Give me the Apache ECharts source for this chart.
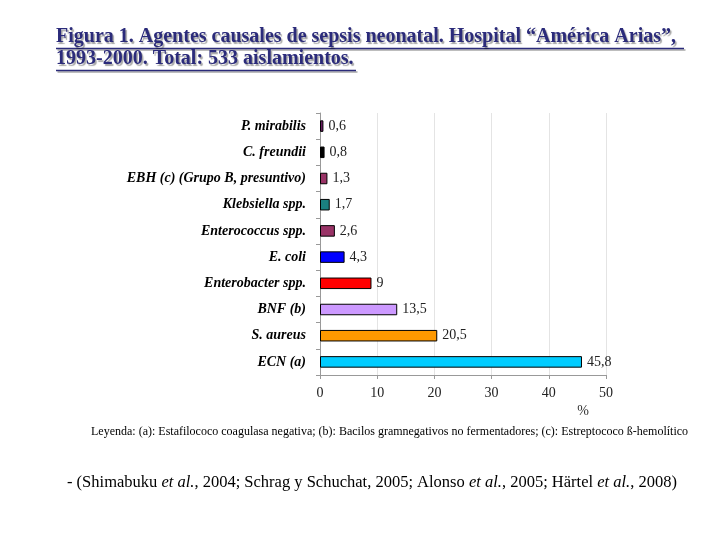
<!DOCTYPE html>
<html>
<head>
<meta charset="utf-8">
<script src="https://cdn.jsdelivr.net/npm/echarts@6/dist/echarts.min.js"></script>
<style>
  html, body { margin: 0; padding: 0; background: #fff; }
  #chart { width: 720px; height: 540px; }
</style>
</head>
<body>
<div id="chart"></div>
<script>
// agentes causales, de arriba hacia abajo
const agentes = [
  'P. mirabilis', 'C. freundii', 'EBH (c) (Grupo B, presuntivo)', 'Klebsiella spp.',
  'Enterococcus spp.', 'E. coli', 'Enterobacter spp.', 'BNF (b)', 'S. aureus', 'ECN (a)'
];
const porcentajes = [0.6, 0.8, 1.3, 1.7, 2.6, 4.3, 9, 13.5, 20.5, 45.8];
const colores = [
  '#6a1b62', '#000000', '#993366', '#1a8080', '#993366',
  '#0000ff', '#ff0000', '#cc99ff', '#ff9900', '#00ccff'
];
const ticksX = [0, 10, 20, 30, 40, 50];

const titulo1 = 'Figura 1. Agentes causales de sepsis neonatal. Hospital “América Arias”,';
const titulo2 = '1993-2000. Total: 533 aislamientos.';
const leyenda = 'Leyenda: (a): Estafilococo coagulasa negativa; (b): Bacilos gramnegativos no fermentadores; (c): Estreptococo ß-hemolítico';

const chart = echarts.init(document.getElementById('chart'));

const tituloStyle = {
  fontFamily: 'Liberation Serif',
  fontWeight: 'bold',
  fontSize: 20,
  color: '#2b2b7a',
  textShadowColor: 'rgba(0,0,0,0.35)',
  textShadowOffsetX: 1.5,
  textShadowOffsetY: 1.5,
  textShadowBlur: 1
};

const option = {
  backgroundColor: '#fff',
  animation: false,
  title: [
    { text: titulo1, left: 56, top: 27, padding: 0, textStyle: tituloStyle },
    { text: titulo2, left: 56, top: 49, padding: 0, textStyle: tituloStyle },
    {
      text: leyenda, left: 91, top: 426, padding: 0,
      textStyle: { fontFamily: 'Liberation Serif', fontWeight: 'normal', fontSize: 12, color: '#000' }
    },
    {
      text: '- (Shimabuku {i|et al.}, 2004; Schrag y Schuchat, 2005; Alonso {i|et al.}, 2005; Härtel {i|et al.}, 2008)',
      left: 67, top: 474, padding: 0,
      textStyle: {
        fontFamily: 'Liberation Serif', fontWeight: 'normal', fontSize: 16.5, color: '#000',
        rich: { i: { fontFamily: 'Liberation Serif', fontStyle: 'italic', fontSize: 16.5, color: '#000' } }
      }
    }
  ],
  graphic: [
    // subrayado del título
    { type: 'line', shape: { x1: 56, y1: 48.5, x2: 684, y2: 48.5 },
      style: { stroke: '#2b2b7a', lineWidth: 1.5, shadowColor: 'rgba(0,0,0,0.35)', shadowOffsetX: 1.5, shadowOffsetY: 1.5 } },
    { type: 'line', shape: { x1: 56, y1: 70.5, x2: 356, y2: 70.5 },
      style: { stroke: '#2b2b7a', lineWidth: 1.5, shadowColor: 'rgba(0,0,0,0.35)', shadowOffsetX: 1.5, shadowOffsetY: 1.5 } }
  ],
  grid: { left: 320, right: 114, top: 113, bottom: 165, containLabel: false },
  xAxis: {
    type: 'value',
    min: ticksX[0],
    max: ticksX[ticksX.length - 1],
    interval: 10,
    name: '%',
    nameLocation: 'end',
    nameGap: -23,
    nameTextStyle: {
      fontFamily: 'Liberation Serif', fontSize: 14, color: '#333',
      align: 'center', verticalAlign: 'top', padding: [29, 0, 0, 0]
    },
    axisLine: { show: true, lineStyle: { color: '#999', width: 1 } },
    axisTick: { show: true, length: 4, lineStyle: { color: '#999' } },
    splitLine: { show: true, lineStyle: { color: '#e4e4e4', width: 1 } },
    axisLabel: {
      margin: 11, fontFamily: 'Liberation Serif', fontSize: 14, color: '#222'
    }
  },
  yAxis: {
    type: 'category',
    inverse: true,
    data: agentes,
    axisLine: { show: true, lineStyle: { color: '#999', width: 1 } },
    axisTick: { show: true, length: 4, alignWithLabel: false, lineStyle: { color: '#999' } },
    axisLabel: {
      margin: 14, fontFamily: 'Liberation Serif', fontStyle: 'italic', fontWeight: 'bold',
      fontSize: 14, color: '#000'
    }
  },
  series: [{
    type: 'bar',
    barWidth: '44%',
    data: porcentajes.map((v, i) => ({
      value: v,
      itemStyle: { color: colores[i], borderColor: '#000', borderWidth: 1 }
    })),
    label: {
      show: true,
      position: 'right',
      distance: 5,
      fontFamily: 'Liberation Serif',
      fontSize: 14,
      color: '#222',
      formatter: p => String(p.value).replace('.', ',')
    }
  }]
};

chart.setOption(option);
</script>
</body>
</html>
